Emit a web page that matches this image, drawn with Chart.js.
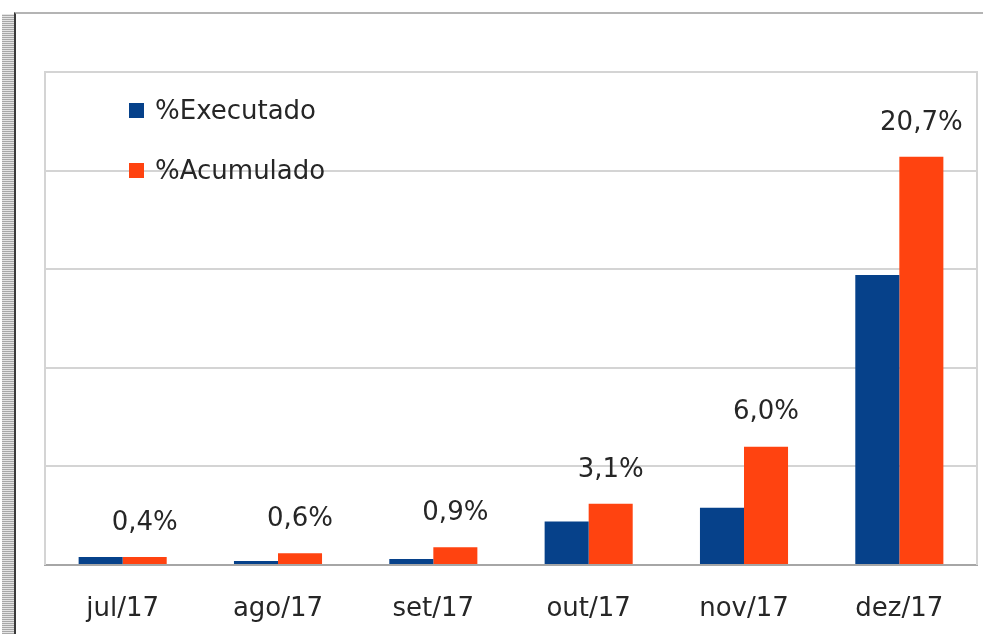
<!DOCTYPE html>
<html lang="pt">
<head>
<meta charset="UTF-8">
<title>Executado x Acumulado</title>
<script src="https://cdn.jsdelivr.net/npm/chart.js"></script>
<style>
    * { margin: 0; padding: 0; box-sizing: border-box; }
    body { width: 983px; height: 634px; background: #fff; position: relative; overflow: hidden;
           font-family: 'DejaVu Sans', sans-serif; }
    .strip { position: absolute; left: 2px; top: 14px; width: 12px; height: 640px;
             background: repeating-linear-gradient(0deg, #a8a8a8 0 1px, #e4e4e4 1px 2px); }
    .frame { position: absolute; left: 14px; top: 12px; width: 990px; height: 640px;
             border-top: 2px solid #b4b4b4; border-left: 2px solid #3a3a3a; }
    .chart-box { position: absolute; left: 0; top: 0; width: 983px; height: 634px; }
    .legend { position: absolute; left: 129px; top: 93px; }
    .legend div { display: flex; align-items: center; height: 34px; margin-bottom: 26px;
                  font-size: 26px; color: #262626; }
    .legend span { width: 15px; height: 15px; margin-right: 11px; }
</style>
</head>
<body>
<div class="strip"></div>
<div class="frame"></div>
<div class="chart-box"><canvas id="chart" width="983" height="634"></canvas></div>
<div class="legend" id="legend"></div>

<script>
    const months = ['jul/17', 'ago/17', 'set/17', 'out/17', 'nov/17', 'dez/17'];
    const executado = [0.4, 0.2, 0.3, 2.2, 2.9, 14.7];
    const acumulado = [0.4, 0.6, 0.9, 3.1, 6.0, 20.7];
    const yTicks = [0, 5, 10, 15, 20, 25];

    const colors = ['#06418a', '#ff4310'];

    // value labels over the accumulated bars
    const barLabels = {
        id: 'barLabels',
        afterDatasetsDraw(chart) {
            const ctx = chart.ctx;
            const meta = chart.getDatasetMeta(1);
            ctx.save();
            ctx.font = '26px "DejaVu Sans"';
            ctx.fillStyle = '#262626';
            ctx.textAlign = 'center';
            ctx.textBaseline = 'middle';
            meta.data.forEach((bar, i) => {
                ctx.fillText(acumulado[i].toFixed(1).replace('.', ',') + '%', bar.x, bar.y - 34);
            });
            ctx.restore();
        }
    };

    // grey box round the plot area
    const plotBorder = {
        id: 'plotBorder',
        beforeDatasetsDraw(chart) {
            const {ctx, chartArea: a} = chart;
            ctx.save();
            ctx.strokeStyle = '#d4d4d4';
            ctx.lineWidth = 2;
            ctx.beginPath();
            ctx.moveTo(a.left, a.bottom);
            ctx.lineTo(a.left, a.top);
            ctx.lineTo(a.right, a.top);
            ctx.lineTo(a.right, a.bottom);
            ctx.stroke();
            ctx.restore();
        }
    };

    const chart = new Chart(document.getElementById('chart'), {
        type: 'bar',
        data: {
            labels: months,
            datasets: [
                { label: '%Executado', data: executado, backgroundColor: colors[0] },
                { label: '%Acumulado', data: acumulado, backgroundColor: colors[1] }
            ]
        },
        options: {
            responsive: false,
            animation: false,
            categoryPercentage: 0.567,
            barPercentage: 1.0,
            layout: { padding: { left: 45, right: 6, top: 72, bottom: 12 } },
            plugins: { legend: { display: false }, tooltip: { enabled: false } },
            scales: {
                x: {
                    afterFit: s => { s.height = 57; },
                    grid: { display: false, drawTicks: false },
                    border: { color: '#a6a6a6', width: 2 },
                    ticks: { color: '#262626', padding: 29, font: { family: 'DejaVu Sans', size: 26 } }
                },
                y: {
                    min: yTicks[0],
                    max: yTicks[yTicks.length - 1],
                    afterBuildTicks: s => { s.ticks = yTicks.map(v => ({ value: v })); },
                    afterFit: s => { s.width = 0; },
                    grid: { color: '#d4d4d4', lineWidth: 2, drawTicks: false },
                    border: { display: false },
                    ticks: { display: false }
                }
            }
        },
        plugins: [plotBorder, barLabels]
    });

    // legend inside the plot, top left
    document.getElementById('legend').innerHTML = chart.data.datasets.map(d =>
        '<div><span style="background:' + d.backgroundColor + '"></span>' + d.label + '</div>').join('');
</script>
</body>
</html>
